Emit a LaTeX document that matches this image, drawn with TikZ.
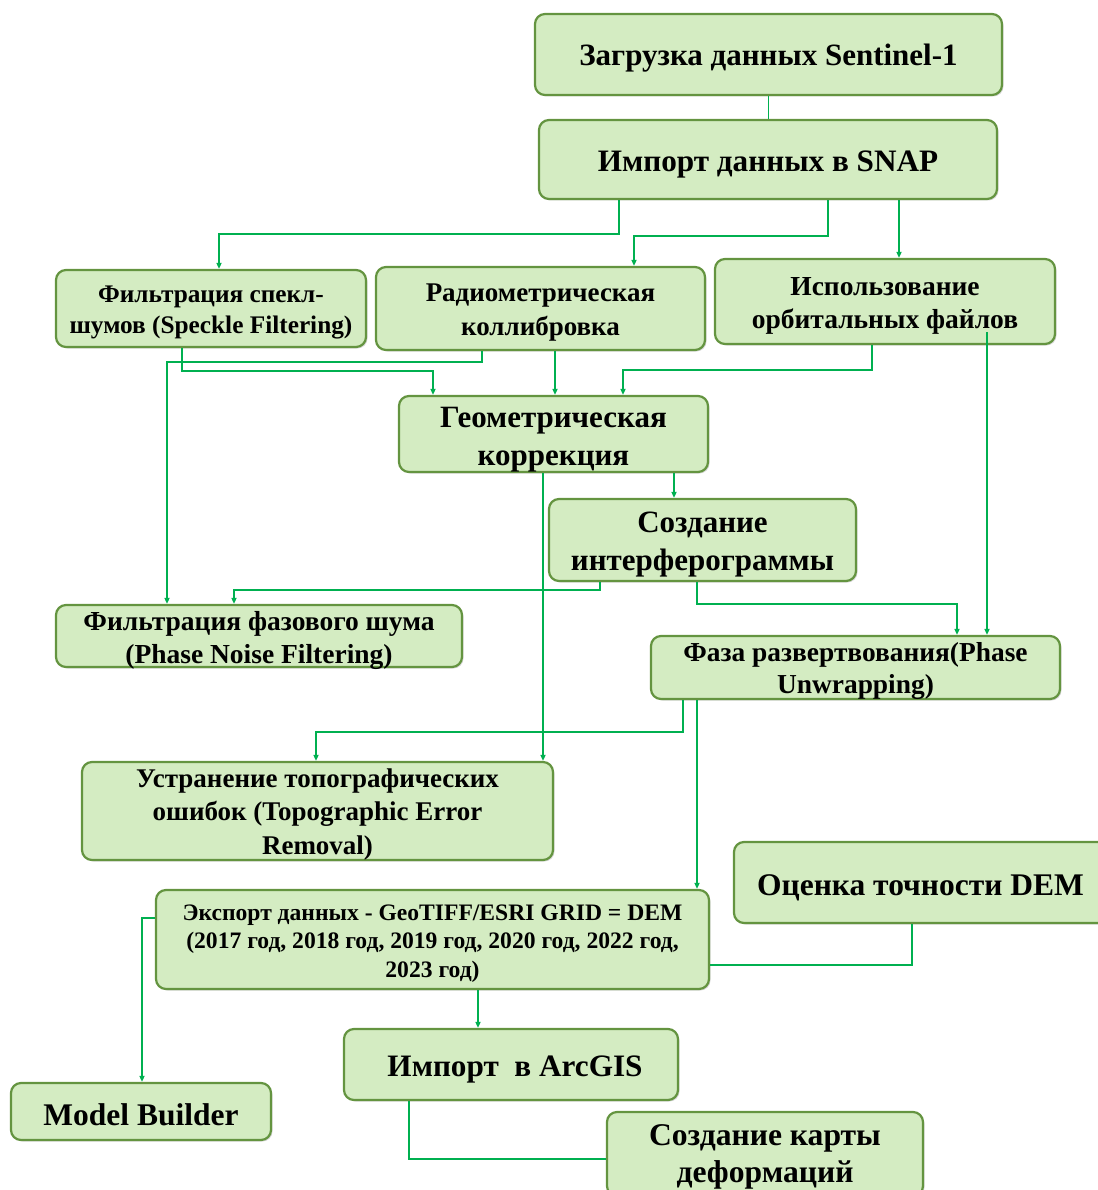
\documentclass[tikz,border=0pt]{standalone}
\usepackage{fontspec}
\setmainfont{Liberation Serif}
\usetikzlibrary{arrows.meta,shadows}
\definecolor{boxfill}{RGB}{212,236,194}
\definecolor{boxline}{RGB}{100,148,64}
\definecolor{conn}{RGB}{0,176,80}
\newcommand{\fsz}[2]{\fontsize{#1}{#2}\selectfont\bfseries}
\tikzset{
  stepbox/.style={draw=boxline, fill=boxfill, line width=2.2pt, rounded corners=10pt,
    drop shadow={shadow xshift=1.5pt,shadow yshift=-1.5pt,opacity=0.3}, inner sep=0pt},
  txt/.style={align=center, inner sep=0pt, text=black},
  conline/.style={draw=conn, line width=1.9pt},
  arr/.style={conline, -{Triangle[length=6pt,width=5pt]}},
}
\begin{document}
\begin{tikzpicture}[x=1pt,y=-1pt]
\useasboundingbox (0,0) rectangle (1097,1190);
% boxes
\node[stepbox, minimum width=467pt, minimum height=81pt] (sent) at (768.5,54.5) {};
\node[stepbox, minimum width=458pt, minimum height=79pt] (snap) at (768,159.5) {};
\node[stepbox, minimum width=310pt, minimum height=77pt] (speck) at (211,308.5) {};
\node[stepbox, minimum width=329pt, minimum height=83pt] (radio) at (540.5,308.5) {};
\node[stepbox, minimum width=340pt, minimum height=85pt] (orb) at (885,301.5) {};
\node[stepbox, minimum width=309pt, minimum height=76pt] (geom) at (553.5,434) {};
\node[stepbox, minimum width=307pt, minimum height=82pt] (interf) at (702.5,540) {};
\node[stepbox, minimum width=406pt, minimum height=62pt] (noise) at (259,636) {};
\node[stepbox, minimum width=409pt, minimum height=63pt] (unwrap) at (855.5,667.5) {};
\node[stepbox, minimum width=471pt, minimum height=98pt] (topo) at (317.5,811) {};
\node[stepbox, minimum width=553pt, minimum height=99pt] (export) at (432.5,939.5) {};
\node[stepbox, minimum width=376pt, minimum height=81pt] (dem) at (922,882.5) {};
\node[stepbox, minimum width=334pt, minimum height=71pt] (arcgis) at (511,1064.5) {};
\node[stepbox, minimum width=260pt, minimum height=57pt] (model) at (141,1111.5) {};
\node[stepbox, minimum width=316pt, minimum height=84pt] (map) at (765,1154) {};
% texts
\node[txt, font={\fsz{31}{36}}] (sent-t) at ([yshift=-4pt]sent.center) {Загрузка данных Sentinel-1};
\node[txt, font={\fsz{31.2}{36}}] (snap-t) at ([yshift=-5pt]snap.center) {Импорт данных в SNAP};
\node[txt, font={\fsz{25.3}{31.5}}] (speck-t) at ([yshift=-4pt]speck.center) {Фильтрация спекл-\\шумов (Speckle Filtering)};
\node[txt, font={\fsz{27}{34}}] (radio-t) at ([yshift=-4pt]radio.center) {Радиометрическая\\коллибровка};
\node[txt, font={\fsz{27.5}{33}}] (orb-t) at ([yshift=-4pt]orb.center) {Использование\\орбитальных файлов};
\node[txt, font={\fsz{31}{38}}] (geom-t) at ([yshift=-6pt]geom.center) {Геометрическая\\коррекция};
\node[txt, font={\fsz{31}{38}}] (interf-t) at ([yshift=-5pt]interf.center) {Создание\\интерферограммы};
\node[txt, font={\fsz{27.5}{33}}] (noise-t) at ([yshift=-4pt]noise.center) {Фильтрация фазового шума\\(Phase Noise Filtering)};
\node[txt, font={\fsz{27.4}{32}}] (unwrap-t) at ([yshift=-4pt]unwrap.center) {Фаза развертвования(Phase\\Unwrapping)};
\node[txt, font={\fsz{27}{33.5}}] (topo-t) at ([yshift=-3pt]topo.center) {Устранение топографических\\ошибок (Topographic Error\\Removal)};
\node[txt, font={\fsz{23.6}{28.5}}] (export-t) at ([yshift=-4pt]export.center) {Экспорт данных - GeoTIFF/ESRI GRID = DEM\\(2017 год, 2018 год, 2019 год, 2020 год, 2022 год,\\2023 год)};
\node[txt, font={\fsz{31.5}{36}}] (dem-t) at ([yshift=-5pt]920.5,882.5) {Оценка точности DEM};
\node[txt, font={\fsz{31.2}{36}}] (arcgis-t) at ([xshift=4pt,yshift=-5pt]arcgis.center) {Импорт\ \ в ArcGIS};
\node[txt, font={\fsz{31.5}{36}}] (model-t) at ([yshift=-3pt]model.center) {Model Builder};
\node[txt, font={\fsz{31.6}{37}}] (map-t) at ([yshift=-3pt]map.center) {Создание карты\\деформаций};
% connectors
\coordinate (orbin) at (987,332);
\draw[conline] (sent.south) -- (sent.south |- snap.north);
\draw[arr] (snap.south -| 619,0) -- (619,234) -- (219,234) -- (speck.north -| 219,0);
\draw[arr] (snap.south -| 828,0) -- (828,236) -- (634,236) -- (radio.north -| 634,0);
\draw[arr] (snap.south -| 899,0) -- (orb.north -| 899,0);
\draw[arr] (speck.south -| 182,0) -- (182,371) -- (433,371) -- (geom.north -| 433,0);
\draw[arr] (radio.south -| 482,0) -- (482,362) -- (167,362) -- (noise.north -| 167,0);
\draw[arr] (radio.south -| 555,0) -- (geom.north -| 555,0);
\draw[arr] (orb.south -| 872,0) -- (872,370) -- (623,370) -- (geom.north -| 623,0);
\draw[arr] (orbin) -- (unwrap.north -| orbin);
\draw[arr] (geom.south -| 543,0) -- (topo.north -| 543,0);
\draw[arr] (geom.south -| 674,0) -- (interf.north -| 674,0);
\draw[arr] (interf.south -| 600,0) -- (600,590) -- (234,590) -- (noise.north -| 234,0);
\draw[arr] (interf.south -| 697,0) -- (697,604) -- (957,604) -- (unwrap.north -| 957,0);
\draw[arr] (unwrap.south -| 683,0) -- (683,732) -- (316,732) -- (topo.north -| 316,0);
\draw[arr] (unwrap.south -| 697,0) -- (export.north -| 697,0);
\draw[arr] (export.west |- 0,918) -- (142,918) -- (model.north -| 142,0);
\draw[conline] (dem.south -| 912,0) -- (912,965) -- (export.east |- 0,965);
\draw[arr] (export.south -| 478,0) -- (arcgis.north -| 478,0);
\draw[conline] (arcgis.south -| 409,0) -- (409,1159) -- (map.west |- 0,1159);
\end{tikzpicture}
\end{document}
